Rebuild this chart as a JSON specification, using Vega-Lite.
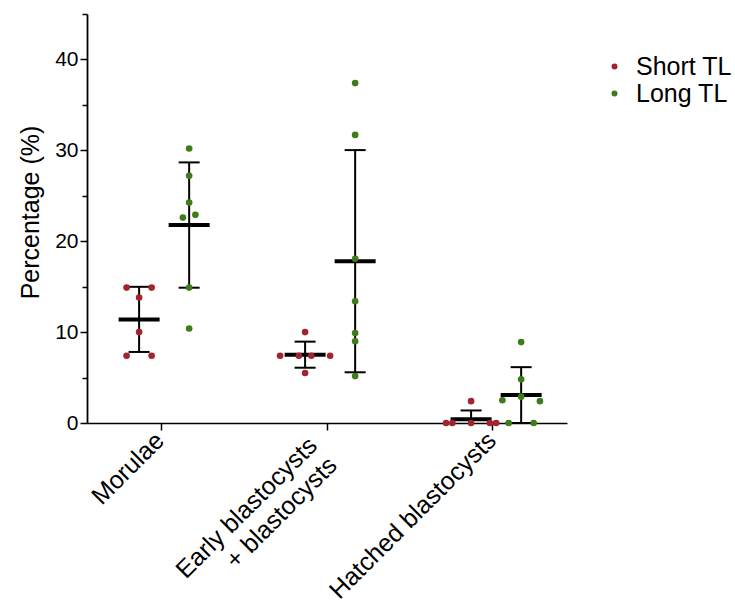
{
  "$schema": "https://vega.github.io/schema/vega-lite/v6.json",
  "width": 480,
  "height": 409,
  "autosize": {"type": "none"},
  "padding": {"left": 87, "top": 14, "right": 168, "bottom": 183},
  "background": "white",
  "config": {
    "view": {"stroke": null},
    "font": "Liberation Sans",
    "axis": {"grid": false}
  },
  "data": {
    "values": [
      {"stage": "Morulae", "group": "Short TL", "value": 14.9, "dodge": -5},
      {"stage": "Morulae", "group": "Short TL", "value": 14.9, "dodge": 5},
      {"stage": "Morulae", "group": "Short TL", "value": 13.8, "dodge": 0},
      {"stage": "Morulae", "group": "Short TL", "value": 10.0, "dodge": 0},
      {"stage": "Morulae", "group": "Short TL", "value": 7.4, "dodge": -5},
      {"stage": "Morulae", "group": "Short TL", "value": 7.4, "dodge": 5},
      {"stage": "Morulae", "group": "Long TL", "value": 30.2, "dodge": 0},
      {"stage": "Morulae", "group": "Long TL", "value": 27.2, "dodge": 0},
      {"stage": "Morulae", "group": "Long TL", "value": 24.25, "dodge": 0},
      {"stage": "Morulae", "group": "Long TL", "value": 22.6, "dodge": -5},
      {"stage": "Morulae", "group": "Long TL", "value": 22.9, "dodge": 5},
      {"stage": "Morulae", "group": "Long TL", "value": 14.9, "dodge": 0},
      {"stage": "Morulae", "group": "Long TL", "value": 10.4, "dodge": 0},
      {"stage": "Early blastocysts + blastocysts", "group": "Short TL", "value": 10.0, "dodge": 0},
      {"stage": "Early blastocysts + blastocysts", "group": "Short TL", "value": 7.4, "dodge": -12},
      {"stage": "Early blastocysts + blastocysts", "group": "Short TL", "value": 7.4, "dodge": -4},
      {"stage": "Early blastocysts + blastocysts", "group": "Short TL", "value": 7.4, "dodge": 4},
      {"stage": "Early blastocysts + blastocysts", "group": "Short TL", "value": 7.4, "dodge": 12},
      {"stage": "Early blastocysts + blastocysts", "group": "Short TL", "value": 5.5, "dodge": 0},
      {"stage": "Early blastocysts + blastocysts", "group": "Long TL", "value": 37.4, "dodge": 0},
      {"stage": "Early blastocysts + blastocysts", "group": "Long TL", "value": 31.7, "dodge": 0},
      {"stage": "Early blastocysts + blastocysts", "group": "Long TL", "value": 18.06, "dodge": 0},
      {"stage": "Early blastocysts + blastocysts", "group": "Long TL", "value": 13.4, "dodge": 0},
      {"stage": "Early blastocysts + blastocysts", "group": "Long TL", "value": 9.9, "dodge": 0},
      {"stage": "Early blastocysts + blastocysts", "group": "Long TL", "value": 9.0, "dodge": 0},
      {"stage": "Early blastocysts + blastocysts", "group": "Long TL", "value": 5.16, "dodge": 0},
      {"stage": "Hatched blastocysts", "group": "Short TL", "value": 2.4, "dodge": 0},
      {"stage": "Hatched blastocysts", "group": "Short TL", "value": 0, "dodge": -12},
      {"stage": "Hatched blastocysts", "group": "Short TL", "value": 0, "dodge": -6},
      {"stage": "Hatched blastocysts", "group": "Short TL", "value": 0, "dodge": 0},
      {"stage": "Hatched blastocysts", "group": "Short TL", "value": 0, "dodge": 6},
      {"stage": "Hatched blastocysts", "group": "Short TL", "value": 0, "dodge": 12},
      {"stage": "Hatched blastocysts", "group": "Long TL", "value": 8.9, "dodge": 0},
      {"stage": "Hatched blastocysts", "group": "Long TL", "value": 4.8, "dodge": 0},
      {"stage": "Hatched blastocysts", "group": "Long TL", "value": 2.5, "dodge": -12},
      {"stage": "Hatched blastocysts", "group": "Long TL", "value": 2.9, "dodge": 0},
      {"stage": "Hatched blastocysts", "group": "Long TL", "value": 2.4, "dodge": 12},
      {"stage": "Hatched blastocysts", "group": "Long TL", "value": 0, "dodge": -6},
      {"stage": "Hatched blastocysts", "group": "Long TL", "value": 0, "dodge": 6}
    ]
  },
  "transform": [
    {"calculate": "datum.group === 'Short TL' ? -22 : 22", "as": "center"},
    {"calculate": "datum.center + datum.dodge", "as": "slot"}
  ],
  "encoding": {
    "x": {
      "field": "stage",
      "type": "nominal",
      "sort": ["Morulae", "Early blastocysts + blastocysts", "Hatched blastocysts"],
      "scale": {"paddingInner": 0.397, "paddingOuter": 0.1443},
      "axis": {
        "title": null,
        "labelAngle": -45,
        "labelAlign": "right",
        "labelBaseline": "middle",
        "labelFontSize": 25,
        "labelLineHeight": 28,
        "labelColor": "black",
        "labelPadding": {"condition": {"test": "datum.value === 'Early blastocysts + blastocysts'", "value": 11}, "value": 6},
        "labelLimit": 0,
        "labelOffset": {"condition": {"test": "datum.value === 'Early blastocysts + blastocysts'", "value": -14}, "value": -1},
        "tickSize": 7,
        "tickWidth": 1.5,
        "tickColor": "black",
        "domainColor": "black",
        "domainWidth": 1.5,
        "labelExpr": "datum.label === 'Early blastocysts + blastocysts' ? ['Early blastocysts', '+ blastocysts'] : datum.label"
      }
    }
  },
  "layer": [
    {
      "transform": [
        {"aggregate": [{"op": "mean", "field": "value", "as": "mean"}, {"op": "stdev", "field": "value", "as": "sd"}], "groupby": ["stage", "group", "center"]},
        {"calculate": "datum.mean - datum.sd", "as": "lo"},
        {"calculate": "datum.mean + datum.sd", "as": "hi"}
      ],
      "layer": [
        {
          "mark": {"type": "rule", "color": "black", "strokeWidth": 2, "clip": true},
          "encoding": {
            "xOffset": {"field": "center", "type": "ordinal"},
            "y": {"field": "lo", "type": "quantitative", "title": "Percentage (%)", "scale": {"domain": [0, 45], "nice": false}},
            "y2": {"field": "hi"}
          }
        },
        {
          "mark": {"type": "tick", "color": "black", "size": 21, "thickness": 2, "opacity": 1, "clip": true},
          "encoding": {
            "xOffset": {"field": "center", "type": "ordinal"},
            "y": {"field": "lo", "type": "quantitative", "title": "Percentage (%)"}
          }
        },
        {
          "mark": {"type": "tick", "color": "black", "size": 21, "thickness": 2, "opacity": 1},
          "encoding": {
            "xOffset": {"field": "center", "type": "ordinal"},
            "y": {"field": "hi", "type": "quantitative", "title": "Percentage (%)"}
          }
        },
        {
          "mark": {"type": "tick", "color": "black", "size": 41, "thickness": 4, "opacity": 1},
          "encoding": {
            "xOffset": {"field": "center", "type": "ordinal"},
            "y": {"field": "mean", "type": "quantitative", "title": "Percentage (%)"}
          }
        }
      ]
    },
    {
      "mark": {"type": "point", "filled": true, "shape": "circle", "size": 44, "opacity": 1},
      "encoding": {
        "xOffset": {"field": "slot", "type": "ordinal"},
        "y": {
          "field": "value",
          "type": "quantitative",
          "title": "Percentage (%)",
          "scale": {"domain": [0, 45], "nice": false},
          "axis": {
            "values": [0, 5, 10, 15, 20, 25, 30, 35, 40, 45],
            "labelExpr": "datum.value % 10 === 0 ? datum.label : ''",
            "tickSize": {"condition": {"test": "datum.value % 10 === 0", "value": 7}, "value": 5},
            "tickWidth": 1.5,
            "tickColor": "black",
            "domainColor": "black",
            "domainWidth": 1.8,
            "labelFontSize": 21,
            "labelColor": "black",
            "labelPadding": 2,
            "titleFontSize": 25,
            "titleFontWeight": "normal",
            "titleColor": "black",
            "titlePadding": 11,
            "titleY": 198,
            "grid": false
          }
        },
        "color": {
          "field": "group",
          "type": "nominal",
          "sort": ["Short TL", "Long TL"],
          "scale": {"domain": ["Short TL", "Long TL"], "range": ["#a3232e", "#3d7b1c"]},
          "legend": {
            "orient": "none",
            "legendX": 515,
            "legendY": 40,
            "title": null,
            "labelFontSize": 25,
            "labelColor": "black",
            "labelLimit": 0,
            "symbolType": "circle",
            "symbolSize": 36,
            "labelOffset": 9,
            "rowPadding": 1
          }
        }
      }
    }
  ],
  "resolve": {"scale": {"xOffset": "shared", "y": "shared"}}
}
